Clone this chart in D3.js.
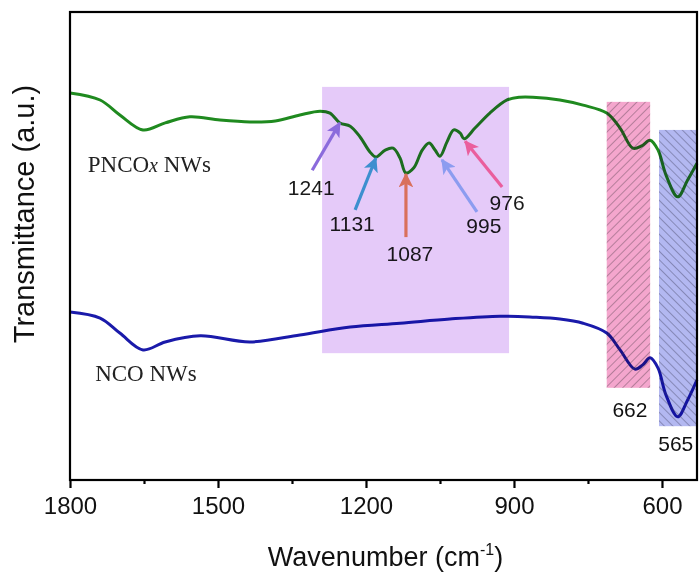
<!DOCTYPE html>
<html>
<head>
<meta charset="utf-8">
<script src="https://cdn.jsdelivr.net/npm/d3@7"></script>
<style>
  body { margin: 0; background: #fff; }
  svg { display: block; }
</style>
</head>
<body>
<div id="chart"></div>
<script>
// wavenumber (cm-1) and transmittance (a.u.)
const pncoWave = [1800, 1739, 1699, 1652, 1607, 1557, 1496, 1435, 1384, 1334, 1293, 1273, 1253, 1232, 1212, 1192, 1180, 1161, 1145, 1131, 1119, 1103, 1086, 1072, 1060, 1050, 1036, 1022, 1009, 1001, 979, 949, 914, 888, 862, 807, 760, 712, 685, 659, 641, 624, 608, 592, 568, 548, 529]
const pncoT = [82.7, 81.2, 78.0, 74.8, 76.3, 77.6, 76.9, 76.5, 76.7, 78.0, 78.8, 78.4, 76.3, 75.6, 73.3, 70.1, 69.0, 70.5, 70.9, 68.8, 65.6, 66.7, 70.5, 72.0, 70.5, 69.2, 72.2, 74.8, 74.1, 72.9, 75.2, 78.4, 81.2, 81.8, 81.8, 81.2, 80.1, 78.4, 75.2, 70.9, 71.4, 72.6, 70.5, 65.2, 60.5, 64.1, 67.7]

const ncoWave = [1800, 1739, 1699, 1652, 1607, 1536, 1435, 1334, 1232, 1131, 1030, 928, 862, 807, 760, 712, 685, 655, 639, 624, 608, 592, 568, 548, 529]
const ncoT = [35.9, 34.6, 31.4, 27.8, 29.5, 30.8, 29.5, 31.0, 32.7, 33.5, 34.4, 35.0, 34.8, 34.4, 33.5, 31.4, 27.8, 23.7, 24.6, 26.1, 23.9, 18.2, 13.5, 17.1, 21.4]

const majorTicks = [1800, 1500, 1200, 900, 600]
const minorTicks = [1650, 1350, 1050, 750]

// peak markers: tip on the curve, tail, label
const peaks = [
  { label: '1241', tip: [1253, 76.3], tail: [1309, 66.2], text: [1311, 62.6], color: '#8b6bdc' },
  { label: '1131', tip: [1180, 68.8], tail: [1222, 57.7], text: [1228, 54.9], color: '#3d8fcf' },
  { label: '1087', tip: [1119, 65.4], tail: [1119, 51.9], text: [1111, 48.5], color: '#d9705c' },
  { label: '995', tip: [1046, 68.4], tail: [975, 57.3], text: [961, 54.3], color: '#8c9cf0' },
  { label: '976', tip: [999, 72.4], tail: [924, 62.6], text: [914, 59.4], color: '#ea5e9d' }
]

// shaded bands
const bands = [
  { x0: 1289, x1: 910, y0: 84.0, y1: 27.1, fill: '#c688f2', opacity: 0.45, hatch: null },
  { x0: 712, x1: 624, y0: 80.8, y1: 19.7, fill: '#f080b8', opacity: 0.7, hatch: 'h1' },
  { x0: 606, x1: 529, y0: 74.8, y1: 11.5, fill: '#8088e8', opacity: 0.6, hatch: 'h2' }
]
const bandLabels = [
  { label: '662', at: [665, 15.0] },
  { label: '565', at: [572, 7.9] }
]

const W = 699
const H = 573
const margin = { top: 12, right: 2, bottom: 93, left: 70 }

const x = d3.scaleLinear().domain([1800, 529]).range([margin.left, W - margin.right])
const y = d3.scaleLinear().domain([0, 100]).range([H - margin.bottom, margin.top])

const svg = d3.select('#chart').append('svg')
  .attr('width', W)
  .attr('height', H)
  .style('font-family', 'Arial, "Liberation Sans", sans-serif')

const defs = svg.append('defs')
defs.append('pattern').attr('id', 'h1')
  .attr('patternUnits', 'userSpaceOnUse').attr('width', 6).attr('height', 6)
  .attr('patternTransform', 'rotate(45)')
  .append('line').attr('x1', 0).attr('y1', 0).attr('x2', 0).attr('y2', 6)
  .attr('stroke', '#4a3a45').attr('stroke-width', 1)
defs.append('pattern').attr('id', 'h2')
  .attr('patternUnits', 'userSpaceOnUse').attr('width', 6).attr('height', 6)
  .attr('patternTransform', 'rotate(-45)')
  .append('line').attr('x1', 0).attr('y1', 0).attr('x2', 0).attr('y2', 6)
  .attr('stroke', '#3a3a55').attr('stroke-width', 1)

defs.selectAll('marker').data(peaks).enter().append('marker')
  .attr('id', (d, i) => 'arr' + i)
  .attr('viewBox', '0 0 12 12')
  .attr('refX', 11).attr('refY', 6)
  .attr('markerWidth', 4.6).attr('markerHeight', 4.6)
  .attr('markerUnits', 'strokeWidth')
  .attr('orient', 'auto')
  .append('path')
  .attr('d', 'M0,0 L12,6 L0,12 L3,6 Z')
  .attr('fill', d => d.color)

const line = d3.line()
  .x(d => x(d[0]))
  .y(d => y(d[1]))
  .curve(d3.curveCatmullRom.alpha(0.5))

svg.append('path')
  .datum(d3.zip(pncoWave, pncoT))
  .attr('fill', 'none')
  .attr('stroke', '#1f8a1f')
  .attr('stroke-width', 3)
  .attr('d', line)

svg.append('path')
  .datum(d3.zip(ncoWave, ncoT))
  .attr('fill', 'none')
  .attr('stroke', '#1a1aaa')
  .attr('stroke-width', 3)
  .attr('d', line)

// sample names
const lab1 = svg.append('text')
  .attr('x', x(1764)).attr('y', y(65.8))
  .attr('font-family', '"Liberation Serif", "Times New Roman", serif')
  .attr('font-size', 23).attr('fill', '#222')
lab1.append('tspan').text('PNCO')
lab1.append('tspan').attr('font-style', 'italic').attr('font-size', 20).text('x')
lab1.append('tspan').text(' NWs')

svg.append('text')
  .attr('x', x(1749)).attr('y', y(21.2))
  .attr('font-family', '"Liberation Serif", "Times New Roman", serif')
  .attr('font-size', 23).attr('fill', '#222')
  .text('NCO NWs')

// peak labels
svg.selectAll('.plab').data(peaks).enter().append('text')
  .attr('class', 'plab')
  .attr('x', d => x(d.text[0])).attr('y', d => y(d.text[1]))
  .attr('text-anchor', 'middle').attr('dominant-baseline', 'central')
  .attr('font-size', 21).attr('fill', '#1a1a1a')
  .text(d => d.label)

svg.selectAll('.blab').data(bandLabels).enter().append('text')
  .attr('class', 'blab')
  .attr('x', d => x(d.at[0])).attr('y', d => y(d.at[1]))
  .attr('text-anchor', 'middle').attr('dominant-baseline', 'central')
  .attr('font-size', 21).attr('fill', '#111')
  .text(d => d.label)

// bands over the curves
bands.forEach(b => {
  svg.append('rect')
    .attr('x', x(b.x0)).attr('y', y(b.y0))
    .attr('width', x(b.x1) - x(b.x0)).attr('height', y(b.y1) - y(b.y0))
    .attr('fill', b.fill).attr('opacity', b.opacity)
    .style('mix-blend-mode', 'multiply')
  if (b.hatch) {
    svg.append('rect')
      .attr('x', x(b.x0)).attr('y', y(b.y0))
      .attr('width', x(b.x1) - x(b.x0)).attr('height', y(b.y1) - y(b.y0))
      .attr('fill', 'url(#' + b.hatch + ')').attr('opacity', 0.75)
  }
})

// arrows
svg.selectAll('.arrow').data(peaks).enter().append('line')
  .attr('class', 'arrow')
  .attr('x1', d => x(d.tail[0])).attr('y1', d => y(d.tail[1]))
  .attr('x2', d => x(d.tip[0])).attr('y2', d => y(d.tip[1]))
  .attr('stroke', d => d.color).attr('stroke-width', 3.2)
  .attr('marker-end', (d, i) => 'url(#arr' + i + ')')

// frame
const plotH = H - margin.bottom
svg.append('rect')
  .attr('x', margin.left).attr('y', margin.top)
  .attr('width', W - margin.right - margin.left)
  .attr('height', plotH - margin.top)
  .attr('fill', 'none').attr('stroke', '#000').attr('stroke-width', 2.2)

const xAxis = svg.append('g')
  .attr('transform', 'translate(0,' + plotH + ')')
  .call(d3.axisBottom(x).tickValues(majorTicks).tickSize(8).tickPadding(9).tickFormat(d3.format('d')))
xAxis.select('.domain').remove()
xAxis.selectAll('.tick line').attr('stroke-width', 2.2)
xAxis.selectAll('.tick text').attr('font-size', 24).attr('fill', '#111')
  .style('font-family', 'Arial, "Liberation Sans", sans-serif')

svg.append('g')
  .attr('transform', 'translate(0,' + plotH + ')')
  .call(d3.axisBottom(x).tickValues(minorTicks).tickSize(4).tickFormat(''))
  .call(g => g.select('.domain').remove())
  .selectAll('.tick line').attr('stroke-width', 2.2)

// axis titles
const xt = svg.append('text')
  .attr('x', (margin.left + W) / 2 + 1).attr('y', 566)
  .attr('text-anchor', 'middle').attr('font-size', 27).attr('fill', '#111')
xt.append('tspan').text('Wavenumber (cm')
xt.append('tspan').attr('font-size', 16).attr('dy', -11).text('-1')
xt.append('tspan').attr('dy', 11).text(')')

svg.append('text')
  .attr('transform', 'translate(34,' + 214 + ') rotate(-90)')
  .attr('text-anchor', 'middle').attr('font-size', 29).attr('fill', '#111')
  .text('Transmittance (a.u.)')
</script>
</body>
</html>
